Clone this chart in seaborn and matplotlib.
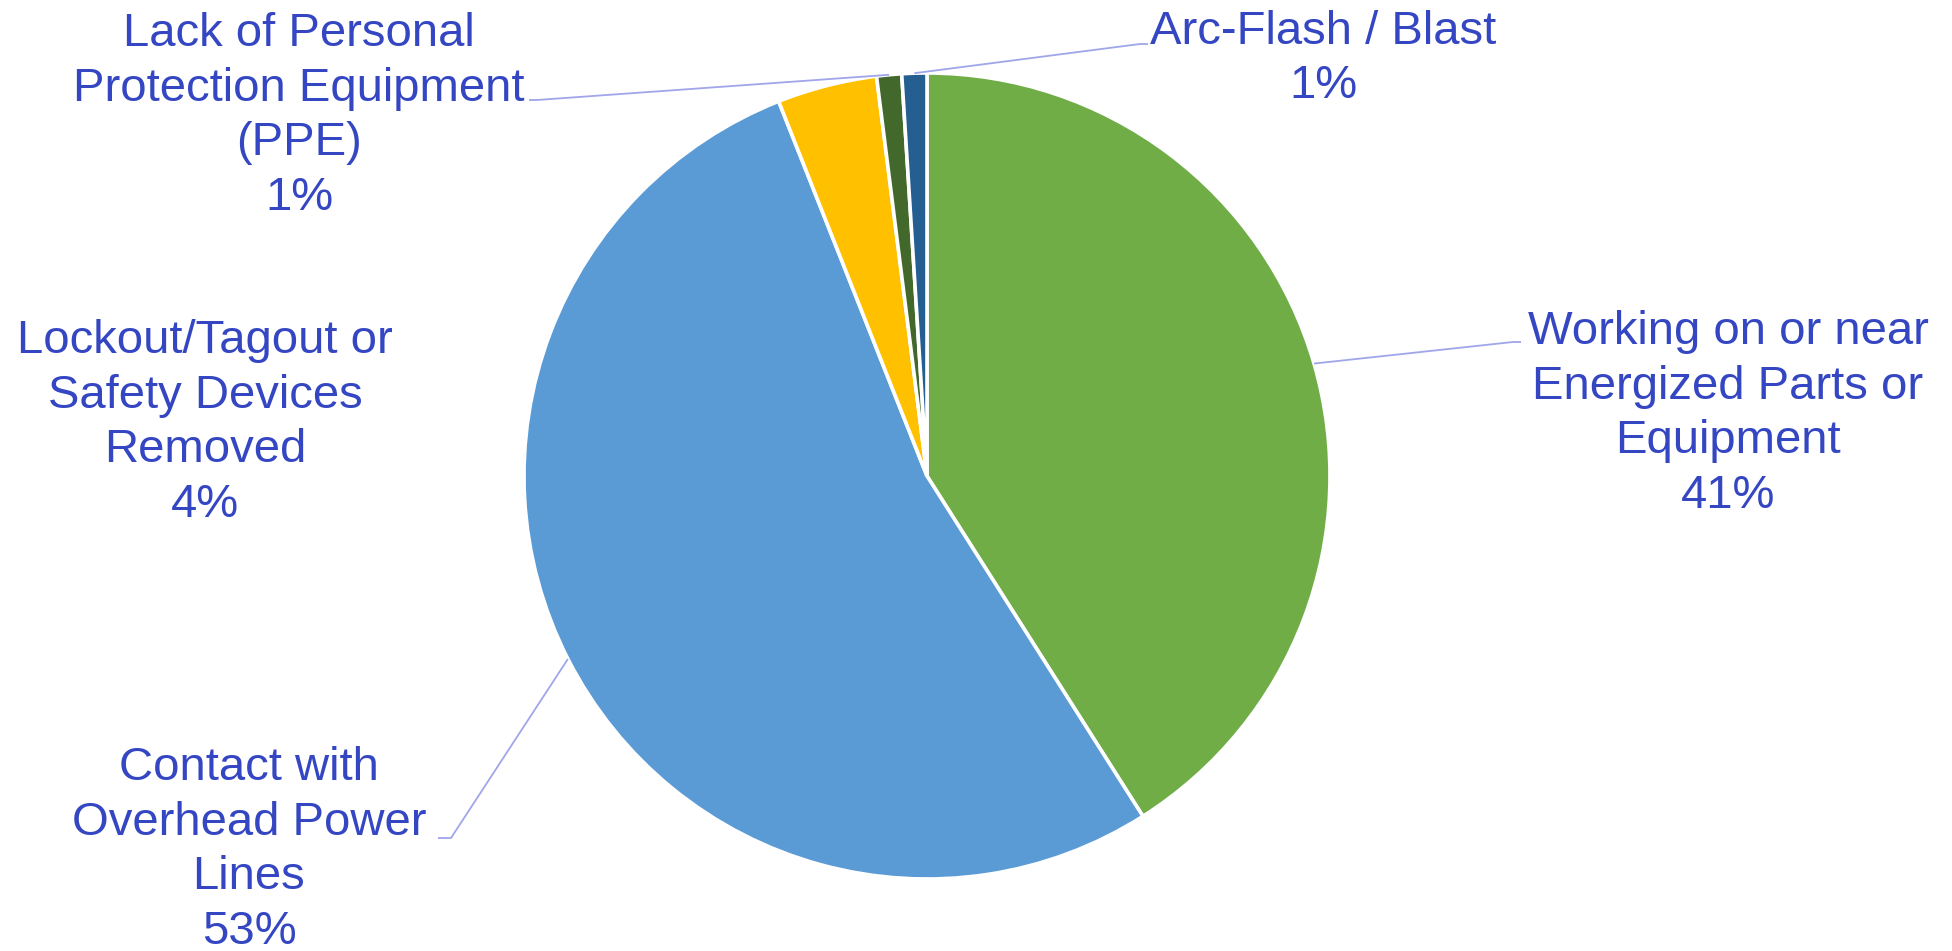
import numpy as np
import matplotlib
matplotlib.use("Agg")
import matplotlib.pyplot as plt
import seaborn as sns

# ---- data ----
categories = [
    "Working on or near\nEnergized Parts or\nEquipment",
    "Contact with\nOverhead Power\nLines",
    "Lockout/Tagout or\nSafety Devices\nRemoved",
    "Lack of Personal\nProtection Equipment\n(PPE)",
    "Arc-Flash / Blast",
]
values = [41, 53, 4, 1, 1]
colors = ["#70AD47", "#5B9BD5", "#FFC000", "#43682B", "#255E91"]

# ---- layout (pixel units, y measured from bottom) ----
W, H = 1952, 951
center = (927, H - 476)
radius = 403
label_xy = [(1728, H - 414), (249, H - 850), (205, H - 423), (299, H - 116), (1323, H - 59)]
elbow_xy = [(1513, H - 342), (451, H - 838), None, (537, H - 100), (1140, H - 44)]
end_xy = [(1521, H - 342), (438, H - 838), None, (529, H - 100), (1148, H - 44)]

sns.set_theme(style="white")
plt.rcParams["font.family"] = ["Liberation Sans", "DejaVu Sans"]

fig = plt.figure(figsize=(W / 100, H / 100), dpi=100)
ax = fig.add_axes([0, 0, 1, 1])

wedges, _ = ax.pie(values, colors=colors, startangle=90, counterclock=False,
                   center=center, radius=radius, frame=True,
                   wedgeprops=dict(edgecolor="white", linewidth=2.6))
ax.set_xlim(0, W)
ax.set_ylim(0, H)
ax.set_aspect("auto")
ax.axis("off")

text_color = "#3446C2"
line_color = "#9FA6EA"
total = sum(values)
for i, (w, cat, v) in enumerate(zip(wedges, categories, values)):
    pct = f"{round(100 * v / total)}%"
    ax.text(label_xy[i][0], label_xy[i][1], f"{cat}\n{pct}", ha="center", va="center",
            fontsize=34, color=text_color, linespacing=1.31)
    if elbow_xy[i] is not None:
        ang = np.deg2rad((w.theta1 + w.theta2) / 2)
        sx = center[0] + radius * np.cos(ang)
        sy = center[1] + radius * np.sin(ang)
        ax.plot([sx, elbow_xy[i][0], end_xy[i][0]], [sy, elbow_xy[i][1], end_xy[i][1]],
                color=line_color, lw=1.3, solid_capstyle="butt")

fig.savefig("out.png", dpi=100, facecolor="white")
